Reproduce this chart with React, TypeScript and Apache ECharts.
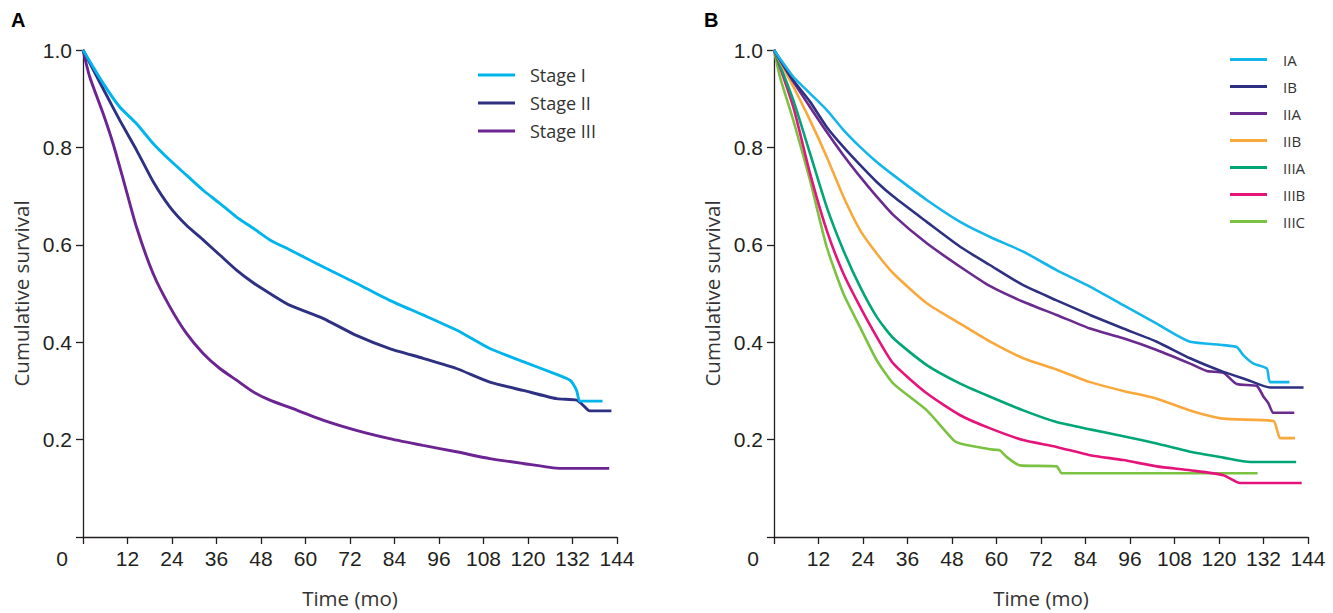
import React, { useEffect, useRef } from 'react';
import * as echarts from 'echarts';

// ---- Panel A data: [months, cumulative survival] ----
const stageI: [number, number][] = [[0,1],[5.4,0.932],[9.9,0.883],[14.4,0.849],[18.9,0.808],[23.4,0.774],[27.9,0.743],[32.4,0.712],[36.9,0.685],[41.4,0.657],[45.9,0.634],[50.4,0.610],[55.7,0.590],[64.7,0.555],[73.7,0.521],[82.7,0.486],[91.7,0.456],[100.7,0.425],[109.7,0.387],[118.7,0.360],[127.7,0.334],[131.3,0.322],[133.1,0.301],[134.0,0.279],[140.1,0.279]];
const stageII: [number, number][] = [[0,1],[5.4,0.921],[9.9,0.856],[14.4,0.795],[18.9,0.730],[23.4,0.678],[27.9,0.640],[32.4,0.610],[36.9,0.579],[41.4,0.548],[45.9,0.522],[50.4,0.500],[55.7,0.476],[64.7,0.449],[73.7,0.414],[82.7,0.387],[91.7,0.367],[100.7,0.346],[109.7,0.318],[118.7,0.301],[127.7,0.284],[133.1,0.281],[134.8,0.271],[136.6,0.259],[142.5,0.259]];
const stageIII: [number, number][] = [[0,1],[1.8,0.945],[5.4,0.870],[8.1,0.808],[10.9,0.733],[14.4,0.637],[18.9,0.541],[23.4,0.473],[27.9,0.418],[32.4,0.377],[36.9,0.346],[41.4,0.322],[45.9,0.298],[50.4,0.281],[55.7,0.266],[64.7,0.240],[73.7,0.219],[82.7,0.202],[91.7,0.188],[100.7,0.175],[109.7,0.161],[118.7,0.151],[128.6,0.141],[141.9,0.141]];

// ---- Panel B data ----
const sIA: [number, number][] = [[0,1],[5.2,0.945],[9.7,0.911],[14.2,0.877],[18.7,0.836],[23.2,0.801],[27.7,0.770],[32.2,0.743],[41.2,0.692],[50.2,0.647],[58.3,0.616],[67.2,0.586],[76.2,0.548],[85.2,0.514],[94.2,0.476],[103.2,0.438],[107.7,0.418],[112.2,0.401],[121.2,0.394],[124.8,0.390],[126.6,0.373],[129.3,0.356],[132.9,0.346],[133.8,0.318],[139.0,0.318]];
const sIB: [number, number][] = [[0,1],[5.2,0.938],[9.7,0.894],[14.2,0.842],[18.7,0.801],[23.2,0.764],[27.7,0.729],[32.2,0.699],[41.2,0.647],[50.2,0.596],[58.3,0.558],[67.2,0.517],[76.2,0.486],[85.2,0.456],[94.2,0.428],[103.2,0.401],[112.2,0.367],[121.2,0.339],[127.5,0.323],[133.8,0.307],[142.8,0.307]];
const sIIA: [number, number][] = [[0,1],[5.2,0.935],[9.7,0.883],[14.2,0.832],[18.7,0.784],[23.2,0.740],[27.7,0.699],[32.2,0.661],[41.2,0.603],[50.2,0.555],[58.3,0.515],[67.2,0.483],[76.2,0.456],[85.2,0.428],[94.2,0.408],[103.2,0.384],[112.2,0.356],[116.7,0.341],[121.2,0.337],[124.8,0.314],[130.2,0.310],[132.0,0.288],[133.3,0.275],[134.7,0.255],[140.3,0.255]];
const sIIB: [number, number][] = [[0,1],[5.2,0.925],[9.7,0.856],[14.2,0.781],[18.7,0.699],[23.2,0.630],[27.7,0.582],[32.2,0.541],[41.2,0.480],[50.2,0.438],[58.3,0.401],[67.2,0.367],[76.2,0.344],[85.2,0.318],[94.2,0.300],[103.2,0.284],[112.2,0.260],[121.2,0.243],[134.7,0.238],[135.6,0.221],[136.5,0.203],[140.5,0.203]];
const sIIIA: [number, number][] = [[0,1],[5.2,0.897],[9.7,0.788],[14.2,0.678],[18.7,0.589],[23.2,0.514],[27.7,0.452],[32.2,0.408],[41.2,0.353],[50.2,0.315],[58.3,0.288],[67.2,0.260],[76.2,0.236],[85.2,0.221],[94.2,0.207],[103.2,0.192],[112.2,0.175],[121.2,0.163],[128.4,0.154],[140.8,0.154]];
const sIIIB: [number, number][] = [[0,1],[5.2,0.883],[9.7,0.747],[14.2,0.630],[18.7,0.541],[23.2,0.473],[27.7,0.411],[32.2,0.356],[41.2,0.295],[50.2,0.250],[58.3,0.223],[67.2,0.199],[76.2,0.185],[85.2,0.168],[94.2,0.158],[103.2,0.145],[112.2,0.137],[121.2,0.127],[125.7,0.111],[142.3,0.111]];
const sIIIC: [number, number][] = [[0,1],[1.6,0.945],[5.2,0.856],[9.7,0.733],[14.2,0.596],[18.7,0.500],[23.2,0.431],[27.7,0.363],[32.2,0.315],[41.2,0.260],[48.4,0.199],[50.2,0.192],[58.3,0.180],[60.9,0.178],[62.8,0.164],[66.3,0.147],[76.2,0.145],[77.6,0.131],[130.4,0.131]];

const namesA = ['Stage I', 'Stage II', 'Stage III'];
const colorsA = ['#00b4ec', '#2e3182', '#6b2492'];
const dataA = [stageI, stageII, stageIII];

const namesB = ['IA', 'IB', 'IIA', 'IIB', 'IIIA', 'IIIB', 'IIIC'];
const colorsB = ['#14b5ea', '#2e3182', '#6a2a8e', '#f9a83c', '#00a676', '#e5147b', '#7cc242'];
const dataB = [sIA, sIB, sIIA, sIIB, sIIIA, sIIIB, sIIIC];

const X_MIN = 0;
const X_MAX = 144;
const X_STEP = 12;
const Y_MIN = 0;
const Y_MAX = 1;
const Y_STEP = 0.2;

const AX = '#231f20';
const TICK_FONT = '"Liberation Sans", Arial, sans-serif';
const TEXT_FONT = '"Open Sans", "Noto Sans", sans-serif';

function xAxisCfg(gridIndex: number) {
  return {
    type: 'value', gridIndex, min: X_MIN, max: X_MAX, interval: X_STEP,
    axisLine: { show: true, lineStyle: { color: AX, width: 1.3 } },
    axisTick: { show: true, length: 7, lineStyle: { color: AX, width: 1.3 } },
    splitLine: { show: false },
    axisLabel: {
      margin: 11, color: AX, fontFamily: TICK_FONT, fontSize: 21,
      showMinLabel: true, showMaxLabel: true,
      formatter: (v: number) => (v === 0 ? '{z|0}' : String(v)),
      rich: { z: { padding: [0, 42, 0, 0], fontFamily: TICK_FONT, fontSize: 21, color: AX } },
    },
    name: 'Time (mo)', nameLocation: 'middle', nameGap: 50,
    nameTextStyle: { fontFamily: TEXT_FONT, fontSize: 20.5, color: '#333' },
  };
}

function yAxisCfg(gridIndex: number) {
  return {
    type: 'value', gridIndex, min: Y_MIN, max: Y_MAX, interval: Y_STEP,
    axisLine: { show: true, lineStyle: { color: AX, width: 1.3 } },
    axisTick: { show: true, length: 7, lineStyle: { color: AX, width: 1.3 } },
    splitLine: { show: false },
    axisLabel: {
      margin: 11, color: AX, fontFamily: TICK_FONT, fontSize: 21,
      showMinLabel: true, showMaxLabel: true,
      formatter: (v: number) => (v === 0 ? '' : v.toFixed(1)),
    },
    name: 'Cumulative survival', nameLocation: 'middle', nameGap: 52, nameRotate: 90,
    nameTextStyle: { fontFamily: TEXT_FONT, fontSize: 20.5, color: '#333' },
  };
}

export default function App() {
  const ref = useRef<HTMLDivElement>(null);
  useEffect(() => {
    if (!ref.current) return;
    const chart = echarts.init(ref.current, null, { renderer: 'svg' });
    const series: any[] = [];
    namesA.forEach((n, i) => series.push({
      type: 'line', name: n, xAxisIndex: 0, yAxisIndex: 0, data: dataA[i],
      showSymbol: false, symbol: 'none', color: colorsA[i],
      smooth: 0.2,
      lineStyle: { color: colorsA[i], width: 2.9 }, z: 3 + (namesA.length - i),
    }));
    namesB.forEach((n, i) => series.push({
      type: 'line', name: n, xAxisIndex: 1, yAxisIndex: 1, data: dataB[i],
      showSymbol: false, symbol: 'none', color: colorsB[i],
      smooth: 0.2,
      lineStyle: { color: colorsB[i], width: 2.6 }, z: 3 + (namesB.length - i),
    }));
    chart.setOption({
      animation: false,
      backgroundColor: '#ffffff',
      grid: [
        { left: 83, top: 50, width: 534, height: 487 },
        { left: 774, top: 50, width: 534, height: 487 },
      ],
      xAxis: [xAxisCfg(0), xAxisCfg(1)],
      yAxis: [yAxisCfg(0), yAxisCfg(1)],
      legend: [
        {
          data: namesA, orient: 'vertical', left: 478, top: 65, padding: 0,
          icon: 'rect', itemWidth: 37, itemHeight: 3, itemGap: 8,
          textStyle: { fontFamily: TEXT_FONT, fontSize: 18, lineHeight: 20, color: '#333', padding: [0, 0, 0, 10] },
        },
        {
          data: namesB, orient: 'vertical', left: 1230, top: 51, padding: 0,
          icon: 'rect', itemWidth: 37, itemHeight: 3, itemGap: 10,
          textStyle: { fontFamily: TEXT_FONT, fontSize: 15, lineHeight: 17, color: '#333', padding: [0, 0, 0, 11] },
        },
      ],
      graphic: [
        { type: 'text', left: 11, top: 10, style: { text: 'A', font: 'bold 20px "Liberation Sans", Arial, sans-serif', fill: '#000' } },
        { type: 'text', left: 704, top: 10, style: { text: 'B', font: 'bold 20px "Liberation Sans", Arial, sans-serif', fill: '#000' } },
      ],
      series,
    });
    return () => chart.dispose();
  }, []);
  return (
    <div
      ref={ref}
      style={{ position: 'fixed', left: 0, top: 0, width: 1333, height: 613, background: '#fff' }}
    />
  );
}
